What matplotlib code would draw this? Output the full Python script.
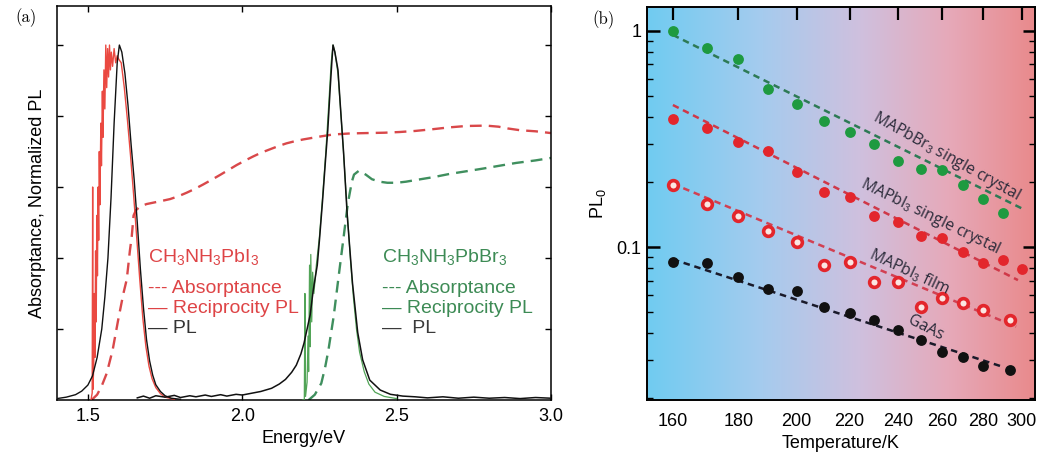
import numpy as np
import matplotlib
matplotlib.use("Agg")
import matplotlib.pyplot as plt
from matplotlib.colors import LinearSegmentedColormap
from matplotlib.ticker import NullLocator, NullFormatter, FixedLocator

plt.rcParams['font.family'] = ['Liberation Sans', 'DejaVu Sans']
plt.rcParams['mathtext.fontset'] = 'custom'
plt.rcParams['mathtext.rm'] = 'Liberation Sans'
plt.rcParams['mathtext.it'] = 'Liberation Sans:italic'
plt.rcParams['mathtext.bf'] = 'Liberation Sans:bold'

# ---------------- (a) spectra ----------------
# CH3NH3PbI3 photoluminescence
e_pl_i = [1.40, 1.43, 1.46, 1.48, 1.50, 1.515, 1.53, 1.545, 1.555, 1.565, 1.575,
          1.585, 1.595, 1.602, 1.61, 1.62, 1.63, 1.64, 1.65, 1.66, 1.67, 1.68,
          1.69, 1.70, 1.71, 1.72, 1.735, 1.75, 1.77, 1.80]
pl_i = [0.004, 0.008, 0.015, 0.025, 0.042, 0.068, 0.12, 0.20, 0.29, 0.40, 0.57,
        0.78, 0.95, 1.00, 0.98, 0.92, 0.83, 0.72, 0.62, 0.50, 0.37, 0.26,
        0.17, 0.11, 0.07, 0.043, 0.024, 0.012, 0.005, 0.002]

# CH3NH3PbI3 reciprocity PL
e_rpl_i = [1.510, 1.514, 1.5155, 1.5165, 1.519, 1.521, 1.523, 1.525, 1.527, 1.529,
           1.531, 1.533, 1.535, 1.537, 1.539, 1.542, 1.544, 1.547, 1.549, 1.552,
           1.555, 1.558, 1.561, 1.564, 1.567, 1.570, 1.573, 1.576, 1.580, 1.585,
           1.590, 1.595, 1.600, 1.608, 1.618, 1.628, 1.638, 1.648, 1.658, 1.668,
           1.678, 1.688, 1.698, 1.708, 1.720, 1.735, 1.750, 1.780]
rpl_i = [0.0, 0.02, 0.60, 0.03, 0.10, 0.30, 0.12, 0.42, 0.22, 0.52,
         0.35, 0.60, 0.45, 0.70, 0.55, 0.78, 0.66, 0.87, 0.74, 0.93,
         0.82, 1.00, 0.88, 0.99, 0.91, 1.00, 0.93, 0.98, 0.94, 0.99,
         0.95, 0.97, 0.96, 0.95, 0.88, 0.79, 0.69, 0.58, 0.46, 0.34,
         0.23, 0.15, 0.095, 0.06, 0.035, 0.018, 0.008, 0.002]

# CH3NH3PbI3 absorptance
e_abs_i = [1.512, 1.53, 1.545, 1.561, 1.58, 1.598, 1.615, 1.626, 1.636, 1.642,
           1.648, 1.656, 1.669, 1.69, 1.712, 1.74, 1.766, 1.793, 1.82, 1.847,
           1.873, 1.90, 1.928, 1.955, 1.982, 2.01, 2.035, 2.062, 2.089, 2.116,
           2.143, 2.17, 2.197, 2.25, 2.294, 2.35, 2.402, 2.46, 2.51, 2.56,
           2.618, 2.67, 2.726, 2.79, 2.83, 2.86, 2.90, 2.95, 3.00]
abs_i = [0.0, 0.015, 0.04, 0.075, 0.14, 0.225, 0.30, 0.34, 0.42, 0.46,
         0.52, 0.535, 0.545, 0.552, 0.556, 0.561, 0.566, 0.574, 0.584, 0.595,
         0.607, 0.620, 0.634, 0.648, 0.662, 0.675, 0.686, 0.697, 0.706, 0.715,
         0.723, 0.729, 0.734, 0.742, 0.748, 0.751, 0.752, 0.753, 0.755, 0.758,
         0.763, 0.768, 0.772, 0.773, 0.770, 0.765, 0.760, 0.757, 0.752]

# CH3NH3PbBr3 photoluminescence
e_pl_br = [1.66, 1.68, 1.70, 1.72, 1.75, 1.78, 1.80, 1.83, 1.85, 1.88, 1.90, 1.93,
           1.95, 1.98, 2.00, 2.03, 2.06, 2.095, 2.12, 2.14, 2.16, 2.175, 2.19,
           2.20, 2.21, 2.22, 2.23, 2.243, 2.25, 2.26, 2.27, 2.277, 2.285, 2.29,
           2.294, 2.30, 2.31, 2.32, 2.328, 2.34, 2.357, 2.374, 2.39, 2.413,
           2.447, 2.48, 2.52, 2.56, 2.60, 2.65, 2.70, 2.75, 2.80, 2.85, 2.90,
           2.95, 3.00]
pl_br = [0.006, 0.011, 0.005, 0.012, 0.008, 0.013, 0.007, 0.012, 0.009, 0.014, 0.010, 0.015,
         0.011, 0.016, 0.014, 0.019, 0.024, 0.033, 0.045, 0.058, 0.078, 0.098, 0.13,
         0.16, 0.20, 0.24, 0.31, 0.38, 0.45, 0.56, 0.68, 0.76, 0.88, 0.95,
         1.00, 0.98, 0.93, 0.80, 0.70, 0.52, 0.33, 0.19, 0.113, 0.056,
         0.028, 0.016, 0.011, 0.009, 0.006, 0.009, 0.005, 0.008, 0.005, 0.007, 0.004,
         0.007, 0.005]

# CH3NH3PbBr3 reciprocity PL
e_rpl_br = [2.195, 2.201, 2.203, 2.205, 2.210, 2.213, 2.215, 2.218, 2.220, 2.222,
            2.225, 2.228, 2.232, 2.24, 2.25, 2.26, 2.27, 2.28, 2.288, 2.294,
            2.30, 2.31, 2.32, 2.33, 2.34, 2.35, 2.36, 2.37, 2.38, 2.395,
            2.41, 2.43, 2.46, 2.50]
rpl_br = [0.0, 0.0, 0.30, 0.01, 0.05, 0.18, 0.08, 0.38, 0.15, 0.41,
          0.22, 0.36, 0.30, 0.38, 0.46, 0.57, 0.69, 0.83, 0.95, 1.00,
          0.98, 0.92, 0.80, 0.67, 0.53, 0.40, 0.29, 0.20, 0.135, 0.08,
          0.045, 0.022, 0.010, 0.004]

# CH3NH3PbBr3 absorptance
e_abs_br = [2.215, 2.235, 2.256, 2.268, 2.279, 2.296, 2.312, 2.327, 2.342, 2.355,
            2.362, 2.378, 2.40, 2.42, 2.445, 2.47, 2.50, 2.53, 2.564, 2.62,
            2.672, 2.73, 2.78, 2.84, 2.888, 2.95, 3.00]
abs_br = [0.0, 0.015, 0.047, 0.09, 0.14, 0.235, 0.347, 0.45, 0.554, 0.615,
          0.635, 0.646, 0.635, 0.622, 0.615, 0.612, 0.612, 0.615, 0.620, 0.628,
          0.637, 0.645, 0.652, 0.661, 0.668, 0.675, 0.682]

energy_ticks = [1.5, 2.0, 2.5, 3.0]
energy_ticklabels = ['1.5', '2.0', '2.5', '3.0']

# ---------------- (b) PL0 vs temperature ----------------
t_br_sc = [160, 170, 180, 190, 200, 210, 220, 230, 240, 250, 260, 270, 280, 290]
pl0_br_sc = [1.0, 0.837, 0.742, 0.537, 0.459, 0.382, 0.341, 0.301, 0.250, 0.229,
             0.226, 0.193, 0.166, 0.143]

t_i_sc = [160, 170, 180, 190, 200, 210, 220, 230, 240, 250, 260, 270, 280, 290, 300]
pl0_i_sc = [0.390, 0.357, 0.305, 0.278, 0.222, 0.180, 0.171, 0.139, 0.131, 0.113,
            0.110, 0.095, 0.084, 0.087, 0.079]

t_i_film = [160, 170, 180, 190, 200, 210, 220, 230, 240, 250, 260, 270, 280, 294]
pl0_i_film = [0.193, 0.158, 0.139, 0.119, 0.106, 0.0826, 0.0855, 0.069, 0.069,
              0.053, 0.0579, 0.0552, 0.0511, 0.0459]

t_gaas = [160, 170, 180, 190, 200, 210, 220, 230, 240, 250, 260, 270, 280, 294]
pl0_gaas = [0.0852, 0.084, 0.0724, 0.0637, 0.0623, 0.053, 0.0493, 0.0459, 0.0413,
            0.0371, 0.0327, 0.031, 0.0281, 0.027]

# fitted trend lines (end points)
fit_t_br_sc = [160, 300]
fit_pl0_br_sc = [0.958, 0.151]
fit_t_i_sc = [160, 298]
fit_pl0_i_sc = [0.454, 0.0703]
fit_t_i_film = [160, 297]
fit_pl0_i_film = [0.196, 0.0428]
fit_t_gaas = [160, 290]
fit_pl0_gaas = [0.0877, 0.0279]

temp_ticks = [160, 180, 200, 220, 240, 260, 280, 300]
pl0_ticks = [0.1, 1]
pl0_ticklabels = ['0.1', '1']

# ---------------- figure ----------------
W, H = 1040, 461
fig = plt.figure(figsize=(W / 100, H / 100), dpi=100)

def box(l, t, r, b):
    return [l / W, 1 - b / H, (r - l) / W, (b - t) / H]

RED = '#de4446'
RED_LINE = '#e8352c'
GREEN = '#3d8b55'
GREEN_LINE = '#3f9a45'

# panel (a)
ax = fig.add_axes(box(57, 6, 551, 400))
ax.plot(e_abs_i, abs_i, color='#d9484a', lw=1.7, ls=(0, (5, 3)), zorder=2)
ax.plot(e_abs_br, abs_br, color='#3f8f5e', lw=1.7, ls=(0, (5, 3)), zorder=2)
ax.plot(e_rpl_i, rpl_i, color=RED_LINE, lw=1.0, alpha=0.9, zorder=3)
ax.plot(e_pl_i, pl_i, color='#111111', lw=1.0, zorder=4)
ax.plot(e_rpl_br, rpl_br, color=GREEN_LINE, lw=0.9, alpha=0.9, zorder=3)
ax.plot(e_pl_br, pl_br, color='#111111', lw=1.1, zorder=4)

ax.set_xlim(1.4, 3.0)
ax.set_ylim(0, 1.11)
ax.set_xticks(energy_ticks, energy_ticklabels)
ax.set_yticks([0.2, 0.4, 0.6, 0.8, 1.0])
ax.tick_params(axis='y', labelleft=False, left=True, right=True, direction='in',
               length=4, width=1.0)
ax.tick_params(axis='x', top=True, bottom=True, direction='in', length=4, width=1.0,
               labelsize=13, pad=6)
for s in ax.spines.values():
    s.set_linewidth(1.1)
ax.set_xlabel('Energy/eV', fontsize=13, labelpad=3)
ax.set_ylabel('Absorptance, Normalized PL', fontsize=13, labelpad=8)

def e_of(px):
    return 1.4 + (px - 57) / 308.75

def v_of(py):
    return (400 - py) / 355

fs = 14
rows = [257, 288, 308, 328]
ax.text(e_of(148), v_of(rows[0]), r'CH$_3$NH$_3$PbI$_3$', color=RED, fontsize=fs,
        va='center', ha='left')
ax.text(e_of(148), v_of(rows[1]), '--- Absorptance', color=RED, fontsize=fs,
        va='center', ha='left')
ax.text(e_of(148), v_of(rows[2]), '\u2014 Reciprocity PL', color=RED, fontsize=fs,
        va='center', ha='left')
ax.text(e_of(148), v_of(rows[3]), '\u2014 PL', color='#333333', fontsize=fs,
        va='center', ha='left')
ax.text(e_of(382), v_of(rows[0]), r'CH$_3$NH$_3$PbBr$_3$', color=GREEN, fontsize=fs,
        va='center', ha='left')
ax.text(e_of(382), v_of(rows[1]), '--- Absorptance', color=GREEN, fontsize=fs,
        va='center', ha='left')
ax.text(e_of(382), v_of(rows[2]), '\u2014 Reciprocity PL', color=GREEN, fontsize=fs,
        va='center', ha='left')
ax.text(e_of(382), v_of(rows[3]), '\u2014  PL', color='#3a3a3a', fontsize=fs,
        va='center', ha='left')

# panel (b)
bx = fig.add_axes(box(647, 7, 1035, 400))
bg = LinearSegmentedColormap.from_list(
    'bg', [(0.0, '#70ccf1'), (0.30, '#a6cbee'), (0.55, '#cfc0de'),
           (0.78, '#e6a9b9'), (1.0, '#e98a8c')])
grad = np.linspace(0, 1, 256)[None, :]
bx.imshow(grad, cmap=bg, aspect='auto', extent=[0, 1, 0, 1],
          transform=bx.transAxes, zorder=0, interpolation='bicubic')

bx.set_xscale('log')
bx.set_yscale('log')

dash = (0, (2.6, 1.9))
bx.plot(fit_t_br_sc, fit_pl0_br_sc, color='#2d7a55', lw=1.8, ls=dash, zorder=2)
bx.plot(fit_t_i_sc, fit_pl0_i_sc, color='#cf3848', lw=1.8, ls=dash, zorder=2)
bx.plot(fit_t_i_film, fit_pl0_i_film, color='#d24052', lw=1.8, ls=dash, zorder=2)
bx.plot(fit_t_gaas, fit_pl0_gaas, color='#1a1a2a', lw=1.8, ls=dash, zorder=2)

ms = 7.8
bx.plot(t_br_sc, pl0_br_sc, 'o', color='#1e9a40', ms=ms, mec='none', zorder=3)
bx.plot(t_i_sc, pl0_i_sc, 'o', color='#e3262c', ms=ms, mec='none', zorder=3)
bx.plot(t_i_film, pl0_i_film, 'o', mfc='#fbe6e2', mec='#e3262c', mew=2.6,
        ms=ms - 0.8, zorder=3)
bx.plot(t_gaas, pl0_gaas, 'o', color='#111111', ms=ms, mec='none', zorder=3)

bx.set_xlim(152.7, 307.3)
bx.set_ylim(0.0196, 1.29)
bx.xaxis.set_major_locator(FixedLocator(temp_ticks))
bx.set_xticklabels([str(t) for t in temp_ticks])
bx.xaxis.set_minor_locator(NullLocator())
bx.xaxis.set_minor_formatter(NullFormatter())
bx.set_yticks(pl0_ticks, pl0_ticklabels)
bx.yaxis.set_minor_formatter(NullFormatter())
bx.tick_params(axis='x', which='major', bottom=False, top=True, labelbottom=True,
               direction='in', length=9, width=1.6, labelsize=13, pad=9)
bx.tick_params(axis='y', which='major', left=True, right=True, direction='in',
               length=9, width=1.8, labelsize=13, pad=4)
bx.tick_params(axis='y', which='minor', left=True, right=True, direction='in',
               length=4.5, width=1.0)
for s in bx.spines.values():
    s.set_linewidth(1.4)
bx.set_xlabel('Temperature/K', fontsize=13, labelpad=4)
bx.set_ylabel(r'PL$_0$', fontsize=13, labelpad=6)

lab = dict(fontsize=11.3, color='#2b2b3a', family=['Open Sans', 'DejaVu Sans'],
           ha='center', va='center', rotation_mode='anchor', zorder=4)
bx.text(262, 0.262, r'MAPbBr$_3$ single crystal', rotation=-29, **lab)
bx.text(254.5, 0.138, r'MAPbI$_3$ single crystal', rotation=-26, **lab)
bx.text(245, 0.0769, r'MAPbI$_3$ film', rotation=-25, **lab)
bx.text(252.5, 0.042, 'GaAs', rotation=-27, **lab)

fig.text(15 / W, 1 - 18 / H, '(a)', family='cmr10', fontsize=12, va='center', ha='left')
fig.text(592 / W, 1 - 20 / H, '(b)', family='cmr10', fontsize=12, va='center', ha='left')

fig.savefig('out.png', dpi=100)
